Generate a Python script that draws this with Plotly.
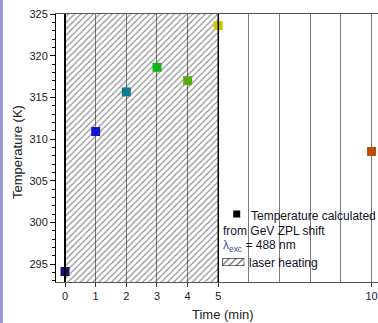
import plotly.graph_objects as go

# ---- data ----
time_min = [0, 1, 2, 3, 4, 5, 10]
temperature_K = [294.1, 310.9, 315.65, 318.6, 317.0, 323.6, 308.5]
point_colors = ['#14146e', '#1414c8', '#0f7d8c', '#14b414', '#5aaa14', '#c8c800', '#be4b0a']
heating_start = 0
heating_end = 5
x_tick_vals = [0, 1, 2, 3, 4, 5, 10]
x_range = [-0.294, 10.21]
y_range = [292.84, 325]

W, H = 378, 323
ML, MR, MT, MB = 56, 0, 14, 41
PW, PH = W - ML - MR, H - MT - MB


def px(xp):
    return (xp - ML) / PW


def py(yp):
    return (H - MB - yp) / PH


fig = go.Figure()

# hatched laser-heating region
fig.add_trace(go.Scatter(
    x=[heating_start, heating_end, heating_end, heating_start, heating_start],
    y=[y_range[0], y_range[0], y_range[1], y_range[1], y_range[0]],
    fill='toself', mode='lines', line=dict(width=0),
    fillcolor='rgba(0,0,0,0)',
    fillpattern=dict(shape='/', fgcolor='#222222', bgcolor='rgba(0,0,0,0)',
                     size=4.4, solidity=0.28),
    hoverinfo='skip', showlegend=False))

# data points
fig.add_trace(go.Scatter(
    x=time_min, y=temperature_K, mode='markers',
    marker=dict(symbol='square', size=9, color=point_colors, line=dict(width=0)),
    showlegend=False))

# legend hatch sample (mini axes)
fig.add_trace(go.Bar(
    x=[0], y=[1], width=[1], xaxis='x2', yaxis='y2',
    marker=dict(color='rgba(0,0,0,0)', line=dict(color='black', width=1),
                pattern=dict(shape='/', fgcolor='#000000', bgcolor='white',
                             size=5, solidity=0.3)),
    hoverinfo='skip', showlegend=False))

shapes = [
    dict(type='line', xref='x', yref='paper', x0=heating_start, x1=heating_start,
         y0=0, y1=1, line=dict(color='black', width=2)),
    dict(type='line', xref='x', yref='paper', x0=heating_end, x1=heating_end,
         y0=0, y1=1, line=dict(color='black', width=1.5)),
    # left page strip
    dict(type='rect', xref='paper', yref='paper', x0=px(0), x1=px(3),
         y0=py(H), y1=py(0), line=dict(width=0), fillcolor='#9a9ad2', layer='above'),
    # legend marker
    dict(type='rect', xref='paper', yref='paper', x0=px(233.2), x1=px(240.2),
         y0=py(217.5), y1=py(210.5), line=dict(width=0), fillcolor='black'),
]

txt_col = '#111128'


def ann(text, x, y, size=12, color=txt_col, xanchor='left', angle=0):
    return dict(text=text, x=px(x), y=py(y), xref='paper', yref='paper',
                xanchor=xanchor, yanchor='middle', textangle=angle,
                showarrow=False, font=dict(size=size, color=color))


annotations = [
    ann('Temperature (K)', 17, 152, size=13, color='#222222', xanchor='center', angle=-90),
    ann('Time (min)', 223, 314, size=13, color='#222222', xanchor='center'),
    ann('Temperature calculated', 249, 216),
    ann('from GeV ZPL shift', 221, 230.5),
    ann('<span style="color:#4a4a9a">λ<sub>exc</sub></span> = 488 nm', 221, 246),
    ann('laser heating', 247, 263),
]

fig.update_layout(
    width=W, height=H,
    margin=dict(l=ML, r=MR, t=MT, b=MB),
    paper_bgcolor='white', plot_bgcolor='white',
    font=dict(family='Liberation Sans, Arial, sans-serif', size=11, color='#222222'),
    showlegend=False,
    xaxis=dict(range=x_range, tickvals=x_tick_vals, ticks='outside', ticklen=4,
               tickcolor='#333333', showline=True, linecolor='#555555', linewidth=1,
               mirror=True, showgrid=True, gridcolor='#7a7a7a', gridwidth=1,
               minor=dict(dtick=1, tick0=0, showgrid=True, gridcolor='#7a7a7a',
                          gridwidth=1, ticks=''),
               zeroline=False, tickfont=dict(size=11, color='#222222')),
    yaxis=dict(range=y_range, dtick=5, tick0=295, ticks='outside', ticklen=5,
               tickcolor='black', showline=True, linecolor='black', linewidth=1,
               showgrid=False, zeroline=False,
               minor=dict(dtick=1, tick0=295, ticks='outside', ticklen=3,
                          tickcolor='black'),
               tickfont=dict(size=11, color='#222222')),
    xaxis2=dict(domain=[px(222.3), px(244.3)], range=[-0.5, 0.5], visible=False,
                anchor='y2', fixedrange=True),
    yaxis2=dict(domain=[py(266), py(258.3)], range=[0, 1], visible=False,
                anchor='x2', fixedrange=True),
    shapes=shapes,
    annotations=annotations,
)

fig.write_html('out.html', config={'displayModeBar': False, 'staticPlot': True})

# remove default page margin so the figure sits at the window's top-left corner
with open('out.html', 'r', encoding='utf-8') as f:
    html = f.read()
html = html.replace('<head>', '<head><style>html,body{margin:0;padding:0;overflow:hidden;}</style>', 1)
with open('out.html', 'w', encoding='utf-8') as f:
    f.write(html)
